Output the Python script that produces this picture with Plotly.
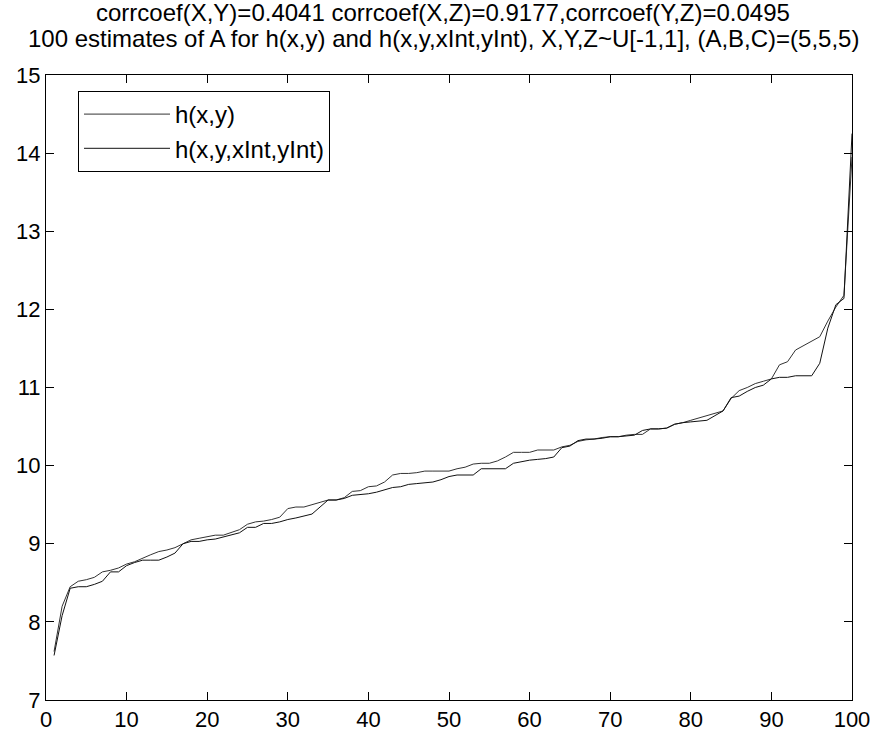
import plotly.graph_objects as go

idx = list(range(1, 101))

h_xy = [7.62, 8.20, 8.45, 8.52, 8.54, 8.57, 8.64, 8.66, 8.69, 8.74,
        8.77, 8.82, 8.86, 8.90, 8.92, 8.95, 9.00, 9.05, 9.07, 9.09,
        9.11, 9.11, 9.14, 9.18, 9.25, 9.28, 9.29, 9.31, 9.34, 9.45,
        9.47, 9.47, 9.50, 9.53, 9.56, 9.56, 9.59, 9.67, 9.68, 9.73,
        9.74, 9.79, 9.88, 9.90, 9.90, 9.91, 9.93, 9.93, 9.93, 9.93,
        9.96, 9.98, 10.02, 10.03, 10.03, 10.06, 10.11, 10.17, 10.17, 10.17,
        10.20, 10.20, 10.20, 10.24, 10.26, 10.31, 10.33, 10.34, 10.36, 10.37,
        10.37, 10.39, 10.40, 10.40, 10.47, 10.47, 10.48, 10.53, 10.55, 10.58,
        10.61, 10.64, 10.67, 10.70, 10.86, 10.96, 11.00, 11.05, 11.08, 11.11,
        11.29, 11.33, 11.48, 11.54, 11.60, 11.65, 11.85, 12.03, 12.18, 13.95]

h_xy_int = [7.57, 8.08, 8.43, 8.45, 8.45, 8.48, 8.52, 8.64, 8.64, 8.72,
            8.76, 8.79, 8.79, 8.79, 8.83, 8.88, 9.00, 9.03, 9.03, 9.05,
            9.06, 9.09, 9.11, 9.14, 9.21, 9.21, 9.26, 9.26, 9.28, 9.31,
            9.33, 9.36, 9.38, 9.47, 9.56, 9.56, 9.58, 9.62, 9.63, 9.64,
            9.66, 9.69, 9.72, 9.73, 9.76, 9.77, 9.78, 9.79, 9.82, 9.86,
            9.88, 9.88, 9.88, 9.96, 9.96, 9.96, 9.96, 10.03, 10.05, 10.07,
            10.08, 10.09, 10.11, 10.23, 10.25, 10.32, 10.34, 10.34, 10.35, 10.37,
            10.37, 10.38, 10.39, 10.45, 10.47, 10.47, 10.48, 10.53, 10.55, 10.56,
            10.57, 10.58, 10.64, 10.70, 10.87, 10.89, 10.95, 11.00, 11.03, 11.11,
            11.13, 11.13, 11.15, 11.15, 11.15, 11.31, 11.76, 12.06, 12.14, 14.25]

x_ticks = [0, 10, 20, 30, 40, 50, 60, 70, 80, 90, 100]
y_ticks = [7, 8, 9, 10, 11, 12, 13, 14, 15]

title_lines = ["corrcoef(X,Y)=0.4041 corrcoef(X,Z)=0.9177,corrcoef(Y,Z)=0.0495",
               "100 estimates of A for h(x,y) and h(x,y,xInt,yInt), X,Y,Z~U[-1,1], (A,B,C)=(5,5,5)"]

FONT = "Liberation Sans, Arial, Helvetica, sans-serif"
FS_TICK = 22
FS_TEXT = 24

fig = go.Figure()
fig.add_trace(go.Scatter(x=idx, y=h_xy, mode="lines", name="h(x,y)",
                         line=dict(color="#333333", width=1), legendgroup="a"))
fig.add_trace(go.Scatter(x=idx, y=h_xy_int, mode="lines", name="h(x,y,xInt,yInt)",
                         line=dict(color="#111111", width=1), legendgroup="b"))

axis_common = dict(showgrid=False, zeroline=False, showline=True, linecolor="black",
                   linewidth=1, mirror="ticks", ticks="inside", ticklen=8,
                   tickcolor="black", tickwidth=1,
                   tickfont=dict(family=FONT, size=FS_TICK, color="black"))

fig.update_xaxes(range=[0, 100], tickvals=x_ticks, ticklabelstandoff=0, automargin=False,
                 **axis_common)
fig.update_yaxes(range=[7, 15], tickvals=y_ticks, automargin=False, **axis_common)

# plot area: x 46..852, y 75..700
for txt, ypx in zip(title_lines, [12, 38]):
    fig.add_annotation(text=txt, xref="paper", yref="paper", x=(443 - 46) / 806,
                       y=(700 - ypx) / 625,
                       xanchor="center", yanchor="middle", showarrow=False,
                       font=dict(family=FONT, size=FS_TEXT, color="black"))

fig.update_layout(
    width=874, height=733,
    margin=dict(l=46, r=22, t=75, b=33),
    paper_bgcolor="white", plot_bgcolor="white",
    legend=dict(x=(78 - 46) / 806, y=(700 - 91) / 625, xanchor="left", yanchor="top",
                bordercolor="black", borderwidth=1, bgcolor="white",
                font=dict(family=FONT, size=FS_TEXT, color="black"),
                itemwidth=86, tracegroupgap=0),
    showlegend=True,
)

fig.write_html("out.html")
